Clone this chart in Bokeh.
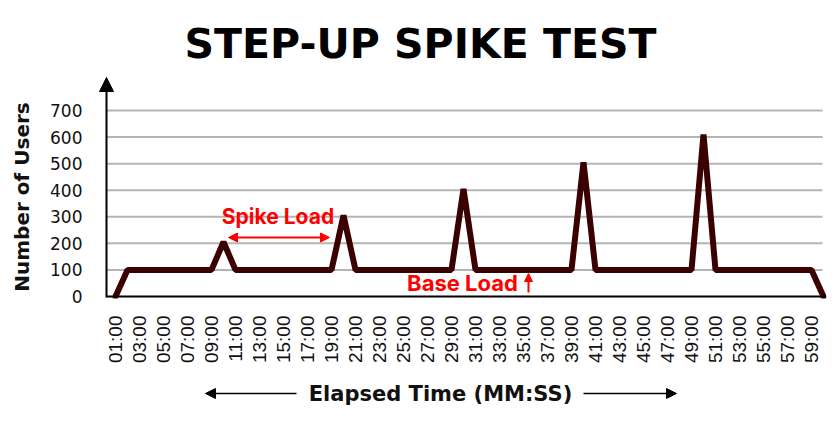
from bokeh.plotting import figure
from bokeh.models import (Range1d, FixedTicker, Label, Arrow, NormalHead)
from bokeh.layouts import column
from bokeh.embed import file_html
from bokeh.resources import INLINE

# ---- data ----
minutes = list(range(1, 61))
users = [0,
         100, 100, 100, 100, 100, 100, 100, 100,
         205,
         100, 100, 100, 100, 100, 100, 100, 100, 100,
         305,
         100, 100, 100, 100, 100, 100, 100, 100, 100,
         405,
         100, 100, 100, 100, 100, 100, 100, 100, 100,
         505,
         100, 100, 100, 100, 100, 100, 100, 100, 100,
         610,
         100, 100, 100, 100, 100, 100, 100, 100, 100,
         0]
tick_minutes = [1, 3, 5, 7, 9, 11, 13, 15, 17, 19, 21, 23, 25, 27, 29,
                31, 33, 35, 37, 39, 41, 43, 45, 47, 49, 51, 53, 55, 57, 59]
tick_labels = ["01:00", "03:00", "05:00", "07:00", "09:00", "11:00", "13:00",
               "15:00", "17:00", "19:00", "21:00", "23:00", "25:00", "27:00",
               "29:00", "31:00", "33:00", "35:00", "37:00", "39:00", "41:00",
               "43:00", "45:00", "47:00", "49:00", "51:00", "53:00", "55:00",
               "57:00", "59:00"]
y_ticks = [0, 100, 200, 300, 400, 500, 600, 700]

TITLE = "STEP-UP SPIKE TEST"
X_CAPTION = "Elapsed Time (MM:SS)"
Y_CAPTION = "Number of Users"

W = 840
TOP_H, MAIN_H, BOT_H = 70, 300, 60

# ---- helpers (page px -> data) ----
PX_PER_MIN = 12.0
PX_PER_USER = 186.0 / 700.0
AXIS_X, AXIS_Y = 106, 296
FRAME_L, FRAME_R = 98, 826
FRAME_T, FRAME_B = 75, 298
X0 = 0.25 - (AXIS_X - FRAME_L) / PX_PER_MIN
X1 = X0 + (FRAME_R - FRAME_L) / PX_PER_MIN
def dx(px):
    return 0.25 + (px - AXIS_X) / PX_PER_MIN
def dy(py):
    return (AXIS_Y - py) / PX_PER_USER


def blank(height):
    f = figure(width=W, height=height, output_backend="svg", toolbar_location=None,
               x_range=Range1d(X0, X1), y_range=Range1d(0, height),
               x_axis_type=None, y_axis_type=None,
               min_border_left=FRAME_L, min_border_right=W - FRAME_R,
               min_border_top=0, min_border_bottom=0)
    f.outline_line_color = None
    f.xgrid.visible = False
    f.ygrid.visible = False
    return f

# ---- title strip ----
top = blank(TOP_H)
top.add_layout(Label(x=dx(420), y=TOP_H - 43, text=TITLE,
                     text_font="DejaVu Sans", text_font_style="bold",
                     text_font_size="41px", text_color="black",
                     text_align="center", text_baseline="middle"))

# ---- main chart ----
p = figure(width=W, height=MAIN_H, output_backend="svg", toolbar_location=None,
           x_range=Range1d(X0, X1),
           y_range=Range1d(dy(FRAME_B), dy(FRAME_T)),
           min_border_left=FRAME_L, min_border_right=W - FRAME_R,
           min_border_top=FRAME_T - TOP_H,
           min_border_bottom=TOP_H + MAIN_H - FRAME_B)
p.outline_line_color = None
p.xgrid.visible = False
p.ygrid.visible = False

# horizontal gridlines starting at the y axis
p.segment(x0=[dx(AXIS_X)] * (len(y_ticks) - 1), x1=[dx(822)] * (len(y_ticks) - 1),
          y0=y_ticks[1:], y1=y_ticks[1:], line_color="#b4b4b4", line_width=2)

p.xaxis.ticker = FixedTicker(ticks=tick_minutes)
p.xaxis.major_label_overrides = {m: l for m, l in zip(tick_minutes, tick_labels)}
p.xaxis.major_label_orientation = 3.14159265 / 2
p.xaxis.major_label_text_font = "Liberation Sans"
p.xaxis.major_label_text_font_size = "19px"
p.xaxis.major_label_text_color = "#111111"
p.xaxis.major_label_standoff = 11
p.xaxis.major_tick_line_color = None
p.xaxis.minor_tick_line_color = None
p.xaxis.axis_line_color = None

p.yaxis.ticker = FixedTicker(ticks=y_ticks)
p.yaxis.major_label_text_font = "DejaVu Sans"
p.yaxis.major_label_text_font_size = "17px"
p.yaxis.major_label_text_color = "#111111"
p.yaxis.major_label_standoff = 10
p.yaxis.major_tick_line_color = None
p.yaxis.minor_tick_line_color = None
p.yaxis.axis_line_color = None
p.yaxis.axis_label = Y_CAPTION + "\u2003"
p.yaxis.axis_label_text_font = "DejaVu Sans"
p.yaxis.axis_label_text_font_style = "bold"
p.yaxis.axis_label_text_font_size = "20px"
p.yaxis.axis_label_text_color = "#111111"
p.yaxis.axis_label_standoff = 13

# axes lines
p.add_layout(Arrow(x_start=dx(AXIS_X), y_start=0, x_end=dx(825), y_end=0,
                   line_color="black", line_width=2, end=None))
p.add_layout(Arrow(x_start=dx(AXIS_X), y_start=dy(AXIS_Y + 1), x_end=dx(AXIS_X), y_end=dy(77),
                   line_color="black", line_width=2,
                   end=NormalHead(size=14, fill_color="black", line_color="black")))

p.line(minutes, users, line_color="#3b0000", line_width=6,
       line_join="bevel", line_cap="round")

RED = "#fe0000"
p.add_layout(Label(x=dx(277.5), y=dy(215.5), text="Spike Load",
                   text_font="Inter", text_font_style="bold",
                   text_font_size="21px", text_color=RED,
                   text_align="center", text_baseline="middle"))
p.add_layout(Arrow(x_start=dx(228), y_start=dy(237), x_end=dx(329), y_end=dy(237),
                   line_color=RED, line_width=2,
                   start=NormalHead(size=9, fill_color=RED, line_color=RED),
                   end=NormalHead(size=9, fill_color=RED, line_color=RED)))
p.add_layout(Label(x=dx(462), y=dy(282), text="Base Load",
                   text_font="Inter", text_font_style="bold",
                   text_font_size="22px", text_color=RED,
                   text_align="center", text_baseline="middle"))
p.add_layout(Arrow(x_start=dx(528), y_start=dy(292), x_end=dx(528), y_end=dy(273),
                   line_color=RED, line_width=2,
                   end=NormalHead(size=8, fill_color=RED, line_color=RED)))

# ---- bottom caption strip ----
bot = blank(BOT_H)
off = TOP_H + MAIN_H
def by(py):
    return BOT_H - (py - off)
bot.add_layout(Label(x=dx(440), y=by(393), text=X_CAPTION,
                     text_font="DejaVu Sans", text_font_style="bold",
                     text_font_size="21px", text_color="#111111",
                     text_align="center", text_baseline="middle"))
bot.add_layout(Arrow(x_start=dx(296), y_start=by(393), x_end=dx(205), y_end=by(393),
                     line_color="black", line_width=1.5,
                     end=NormalHead(size=10, fill_color="black", line_color="black")))
bot.add_layout(Arrow(x_start=dx(583), y_start=by(393), x_end=dx(676), y_end=by(393),
                     line_color="black", line_width=1.5,
                     end=NormalHead(size=10, fill_color="black", line_color="black")))

layout = column(top, p, bot, spacing=0)
open("out.html", "w").write(file_html(layout, INLINE))
